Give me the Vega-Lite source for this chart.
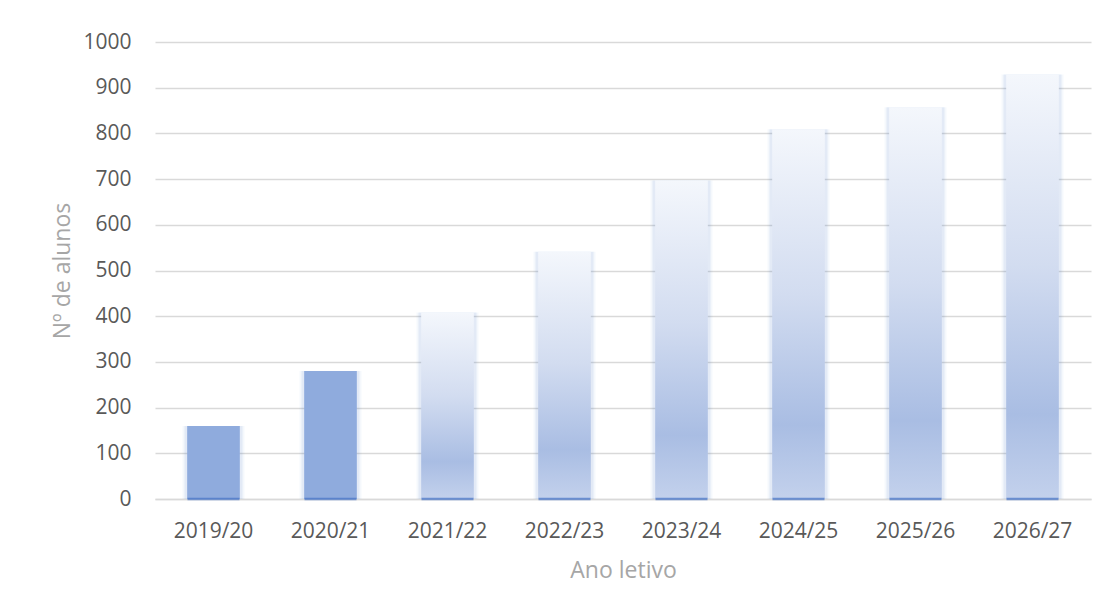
{
  "$schema": "https://vega.github.io/schema/vega-lite/v6.json",
  "autosize": {"type": "none"},
  "width": 936,
  "height": 457,
  "padding": {"left": 155, "top": 42, "right": 18, "bottom": 112},
  "background": "white",
  "config": {
    "view": {"stroke": null},
    "font": "Open Sans",
    "axis": {
      "labelFont": "Open Sans",
      "titleFont": "Open Sans",
      "labelFontSize": 21,
      "titleFontSize": 23,
      "labelColor": "#595959",
      "titleColor": "#A6A6A6",
      "titleFontWeight": "normal",
      "ticks": false,
      "gridColor": "#D9D9D9",
      "gridWidth": 1.3,
      "domainColor": "#D9D9D9",
      "domainWidth": 1.3
    }
  },
  "data": {
    "values": [
      {"ano": "2019/20", "alunos": 160, "tipo": "real"},
      {"ano": "2020/21", "alunos": 280, "tipo": "real"},
      {"ano": "2021/22", "alunos": 408, "tipo": "previsto"},
      {"ano": "2022/23", "alunos": 541, "tipo": "previsto"},
      {"ano": "2023/24", "alunos": 697, "tipo": "previsto"},
      {"ano": "2024/25", "alunos": 809, "tipo": "previsto"},
      {"ano": "2025/26", "alunos": 857, "tipo": "previsto"},
      {"ano": "2026/27", "alunos": 929, "tipo": "previsto"}
    ]
  },
  "encoding": {
    "x": {
      "field": "ano",
      "type": "nominal",
      "sort": null,
      "scale": {"paddingInner": 0, "paddingOuter": 0},
      "axis": {"title": "Ano letivo", "labelAngle": 0, "labelPadding": 21, "titlePadding": 18, "grid": false, "domain": true}
    },
    "y": {
      "field": "alunos",
      "type": "quantitative",
      "scale": {"domain": [0, 1000]},
      "axis": {"title": "Nº de alunos", "format": "d", "values": [0,100,200,300,400,500,600,700,800,900,1000], "labelPadding": 24, "titlePadding": 8, "domain": false, "grid": true}
    }
  },
  "layer": [
    {
      "mark": {"type": "bar", "width": 62, "color": "#4472C4", "opacity": 0.05}
    },
    {
      "mark": {"type": "bar", "width": 58, "color": "#4472C4", "opacity": 0.1}
    },
    {
      "transform": [{"filter": "datum.tipo === 'real'"}],
      "mark": {"type": "bar", "width": {"band": 0.45}, "color": "#8FABDD"}
    },
    {
      "transform": [{"filter": "datum.tipo === 'previsto'"}],
      "mark": {
        "type": "bar",
        "width": {"band": 0.45},
        "color": {
          "gradient": "linear",
          "x1": 0, "y1": 0, "x2": 0, "y2": 1,
          "stops": [
            {"offset": 0, "color": "#F4F7FC"},
            {"offset": 0.45, "color": "#D2DCF0"},
            {"offset": 0.8, "color": "#A9BDE3"},
            {"offset": 1, "color": "#C3D1EC"}
          ]
        }
      }
    },
    {
      "mark": {"type": "tick", "color": "#4472C4", "size": 52, "thickness": 2.5},
      "encoding": {"y": {"datum": 0}}
    }
  ]
}
